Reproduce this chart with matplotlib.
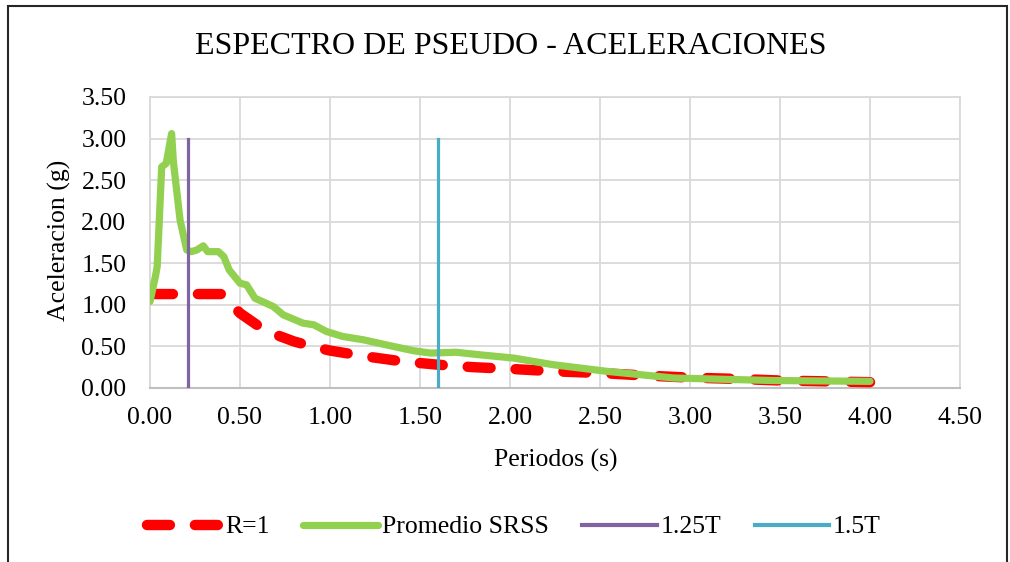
import matplotlib
matplotlib.use("Agg")
import matplotlib.pyplot as plt
from matplotlib.patches import Rectangle

# ---- data ----
periods_srss = [0.00, 0.03, 0.04, 0.065, 0.09, 0.12, 0.13, 0.167, 0.204, 0.23, 0.26,
                0.296, 0.32, 0.38, 0.41, 0.44, 0.50, 0.537, 0.583, 0.685, 0.74, 0.85,
                0.91, 0.98, 1.07, 1.185, 1.31, 1.46, 1.56, 1.70, 1.83, 2.02, 2.24,
                2.54, 2.91, 3.46, 4.00]
promedio_srss = [1.04, 1.34, 1.46, 2.66, 2.70, 3.06, 2.72, 2.02, 1.66, 1.64, 1.66,
                 1.71, 1.64, 1.64, 1.58, 1.42, 1.26, 1.24, 1.08, 0.98, 0.88, 0.78,
                 0.76, 0.68, 0.62, 0.58, 0.52, 0.45, 0.42, 0.43, 0.40, 0.36, 0.28,
                 0.20, 0.12, 0.09, 0.08]
periods_r1 = [0.0, 0.1, 0.2, 0.3, 0.4, 0.5, 0.6, 0.7, 0.8, 0.9, 1.0, 1.2, 1.4, 1.6,
              1.8, 2.0, 2.25, 2.5, 2.75, 3.0, 3.25, 3.5, 3.75, 4.0]
r1 = [1.13, 1.13, 1.13, 1.13, 1.13, 0.90, 0.75, 0.64, 0.56, 0.50, 0.45, 0.38, 0.32,
      0.28, 0.25, 0.23, 0.20, 0.18, 0.15, 0.125, 0.11, 0.09, 0.08, 0.07]
t125_x = [0.21, 0.21]
t125_y = [0.0, 3.0]
t15_x = [1.60, 1.60]
t15_y = [0.0, 3.0]

xticks = [0.0, 0.5, 1.0, 1.5, 2.0, 2.5, 3.0, 3.5, 4.0, 4.5]
yticks = [0.0, 0.5, 1.0, 1.5, 2.0, 2.5, 3.0, 3.5]

title = "ESPECTRO DE PSEUDO - ACELERACIONES"
xlabel = "Periodos (s)"
ylabel = "Aceleracion (g)"

# ---- figure ----
plt.rcParams['font.family'] = ['Liberation Serif', 'DejaVu Serif']
W, H = 1010, 562
fig = plt.figure(figsize=(W / 100, H / 100), dpi=100)
ax = fig.add_axes([150 / W, 1 - 388 / H, (960 - 150) / W, (388 - 97) / H])

# outer chart border
fig.patches.append(Rectangle((8 / W, -0.05), (1007 - 8) / W, 1.05 - 6 / H,
                             transform=fig.transFigure, fill=False,
                             edgecolor='#262626', linewidth=1.5))

l1, = ax.plot(periods_r1, r1, color='#ff0000', linewidth=7.5, linestyle=(0, (2.2, 2.4)),
              dash_capstyle='round', label='R=1', zorder=3)
l2, = ax.plot(periods_srss, promedio_srss, color='#92d050', linewidth=5.2,
              solid_capstyle='round', solid_joinstyle='round', label='Promedio SRSS', zorder=4)
l3, = ax.plot(t125_x, t125_y, color='#8064a2', linewidth=2.3, label='1.25T', zorder=5)
l4, = ax.plot(t15_x, t15_y, color='#4bacc6', linewidth=2.3, label='1.5T', zorder=5)

ax.set_xlim(0, 4.5)
ax.set_ylim(0, 3.5)
ax.set_xticks(xticks)
ax.set_yticks(yticks)
ax.set_xticklabels([f"{v:.2f}" for v in xticks])
ax.set_yticklabels([f"{v:.2f}" for v in yticks])
ax.tick_params(axis='both', length=0, labelsize=18.5, colors='black')
ax.tick_params(axis='x', pad=14)
ax.tick_params(axis='y', pad=17)
ax.grid(True, color='#d9d9d9', linewidth=1.3)
ax.set_axisbelow(True)
for s in ['top', 'right', 'left']:
    ax.spines[s].set_color('#d9d9d9')
    ax.spines[s].set_linewidth(1.3)
ax.spines['bottom'].set_color('#bfbfbf')
ax.spines['bottom'].set_linewidth(1.5)

fig.text(0.5 * (197 + 825) / W, 1 - 46 / H, title, ha='center', va='center', fontsize=23)
fig.text(556 / W, 1 - 460 / H, xlabel, ha='center', va='center', fontsize=18.5)
fig.text(59 / W, 1 - 240 / H, ylabel, ha='center', va='center', fontsize=18.5, rotation=90)

leg = fig.legend(handles=[l1, l2, l3, l4], loc='center', bbox_to_anchor=(514 / W, 1 - 527 / H),
                 ncol=4, frameon=False, fontsize=18.5, handlelength=2.9,
                 handletextpad=0.15, columnspacing=1.3, borderaxespad=0)
for h in leg.legend_handles[2:]:
    h.set_linewidth(3.0)

fig.savefig('out.png', dpi=100)
